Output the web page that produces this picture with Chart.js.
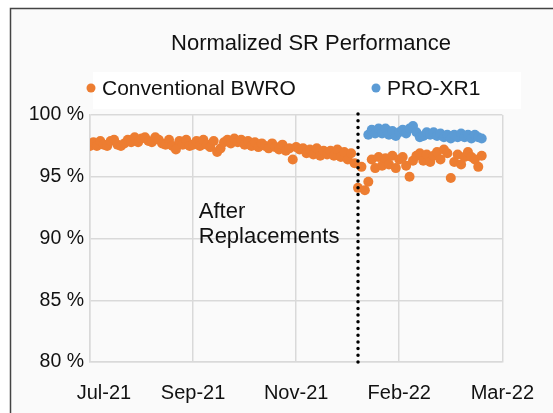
<!DOCTYPE html>
<html>
<head>
<meta charset="utf-8">
<script src="https://cdn.jsdelivr.net/npm/chart.js@4.4.0/dist/chart.umd.min.js"></script>
<style>
html, body { margin: 0; padding: 0; background: #fff; }
</style>
</head>
<body>
<canvas id="myChart" width="553" height="413"></canvas>
<script>
// tick labels (one every 60 days on the x axis)
const xLabels = ["Jul-21", "Sep-21", "Nov-21", "Feb-22", "Mar-22"];
const chartTitle = "Normalized SR Performance";

// day offsets of the samples (every 2nd day)
const convStart = 0;
const proStart = 162;
const sampleStep = 2;
const replacementDay = 156;

// normalized salt rejection, %
const convSR = [
  97.5, 97.8, 97.5, 97.9, 97.6, 97.5, 97.9, 98.0, 97.6, 97.5,
  97.7, 98.0, 97.8, 98.2, 97.8, 98.1, 98.2, 97.9, 97.8, 98.2,
  98.0, 97.7, 97.6, 98.0, 97.5, 97.2, 97.9, 97.6, 98.0, 97.5,
  97.6, 97.9, 97.5, 98.0, 97.6, 97.4, 97.9, 97.0, 97.3, 97.8,
  98.0, 97.7, 98.1, 97.8, 98.0, 97.6, 97.9, 97.5, 97.8, 97.4,
  97.7, 97.5, 97.3, 97.7, 97.4, 97.2, 97.6, 97.1, 97.3, 96.4,
  97.4, 97.2, 97.3, 96.9, 97.2, 96.8, 97.3, 96.7, 97.1, 96.8,
  97.1, 96.7, 97.2, 96.6, 97.0, 96.4, 96.9, 96.1, 94.1, 95.8,
  93.9, 94.6, 96.4, 95.7, 96.6, 95.9, 96.5, 96.0, 96.7, 95.7,
  96.4, 96.6, 95.9, 95.0, 96.3, 96.7, 96.9, 96.3, 96.8, 96.2,
  96.7, 97.0, 96.4, 97.2, 96.9, 94.9, 96.2, 96.8, 96.0, 96.6,
  97.0, 96.6, 96.4, 95.8, 96.7
];
const proSR = [
  98.4, 98.8, 98.5, 98.9, 98.5, 98.9, 98.4, 98.7, 98.3, 98.6,
  98.8, 98.5, 98.9, 99.1, 98.6, 98.2, 98.3, 98.6, 98.4, 98.6,
  98.3, 98.5, 98.2, 98.4, 98.1, 98.4, 98.2, 98.5, 98.2, 98.4,
  98.1, 98.4, 98.2, 98.1
];

const orange = "#ED7D31";
const blue = "#5B9BD5";
const fontFamily = "'Liberation Sans', Arial, sans-serif";

function toPoints(start, values) {
  return values.map((v, i) => ({ x: start + i * sampleStep, y: v }));
}

// frame, background and white legend strip
const backdrop = {
  id: "backdrop",
  beforeDraw(chart) {
    const c = chart.ctx;
    c.save();
    c.fillStyle = "#fff";
    c.fillRect(0, 0, chart.width, chart.height);
    c.fillStyle = "#fafafa";
    c.fillRect(10, 8, chart.width, chart.height);
    c.strokeStyle = "#444";
    c.lineWidth = 1.5;
    c.strokeRect(10.5, 8.5, chart.width + 10, chart.height + 10);
    c.fillStyle = "#fff";
    c.fillRect(93, 72, 428, 37);
    c.restore();
  }
};

// title, legend + annotation text
const extras = {
  id: "extras",
  afterDraw(chart) {
    const c = chart.ctx;
    c.save();
    c.fillStyle = "#111";
    c.font = "22px " + fontFamily;
    c.textAlign = "center";
    c.textBaseline = "middle";
    c.fillText(chartTitle, 311, 44);

    c.textAlign = "left";
    c.font = "21px " + fontFamily;
    const items = [
      { x: 91, label: chart.data.datasets[1].label, color: orange },
      { x: 376, label: chart.data.datasets[2].label, color: blue }
    ];
    items.forEach(it => {
      c.fillStyle = it.color;
      c.beginPath();
      c.arc(it.x, 88, 4.5, 0, Math.PI * 2);
      c.fill();
      c.fillStyle = "#111";
      c.fillText(it.label, it.x + 11, 89);
    });

    const xs = chart.scales.x, ys = chart.scales.y;
    c.font = "22px " + fontFamily;
    c.textBaseline = "alphabetic";
    c.fillText("After", xs.getPixelForValue(63.3), ys.getPixelForValue(91.7));
    c.fillText("Replacements", xs.getPixelForValue(63.3), ys.getPixelForValue(89.6));
    c.restore();
  }
};

const myChart = new Chart("myChart", {
  type: "scatter",
  data: {
    datasets: [
      {
        label: "Replacement",
        type: "line",
        data: [{ x: replacementDay, y: 80 }, { x: replacementDay, y: 100.2 }],
        borderColor: "#000",
        borderWidth: 3.5,
        borderDash: [0, 6.7],
        borderCapStyle: "round",
        pointRadius: 0,
        clip: false,
        order: 0
      },
      {
        label: "Conventional BWRO",
        data: toPoints(convStart, convSR),
        backgroundColor: orange,
        borderWidth: 0,
        pointRadius: 5,
        order: 1
      },
      {
        label: "PRO-XR1",
        data: toPoints(proStart, proSR),
        backgroundColor: blue,
        borderWidth: 0,
        pointRadius: 5,
        order: 2
      }
    ]
  },
  options: {
    responsive: false,
    animation: false,
    layout: { padding: { left: 0, right: 46, top: 115, bottom: 0 } },
    plugins: {
      legend: { display: false },
      tooltip: { enabled: false },
      title: { display: false }
    },
    scales: {
      x: {
        type: "linear",
        min: 0,
        max: 240,
        ticks: {
          stepSize: 60,
          color: "#111",
          padding: 19,
          font: { family: fontFamily, size: 20 },
          // first label sits a little right of its gridline, like the original
          callback: v => (v === 0 ? "     " : "") + xLabels[v / 60]
        },
        grid: { color: "#d9d9d9", lineWidth: 1.5, drawTicks: false },
        border: { color: "#d9d9d9", width: 1.5 },
        afterFit(scale) { scale.height = 51; }
      },
      y: {
        min: 80,
        max: 100,
        ticks: {
          stepSize: 5,
          color: "#111",
          padding: 6,
          font: { family: fontFamily, size: 19.5 },
          callback: v => v + " %"
        },
        grid: { color: "#d9d9d9", lineWidth: 1.5, drawTicks: false },
        border: { color: "#d9d9d9", width: 1.5 },
        afterFit(scale) { scale.width = 90; }
      }
    }
  },
  plugins: [backdrop, extras]
});
</script>
</body>
</html>
